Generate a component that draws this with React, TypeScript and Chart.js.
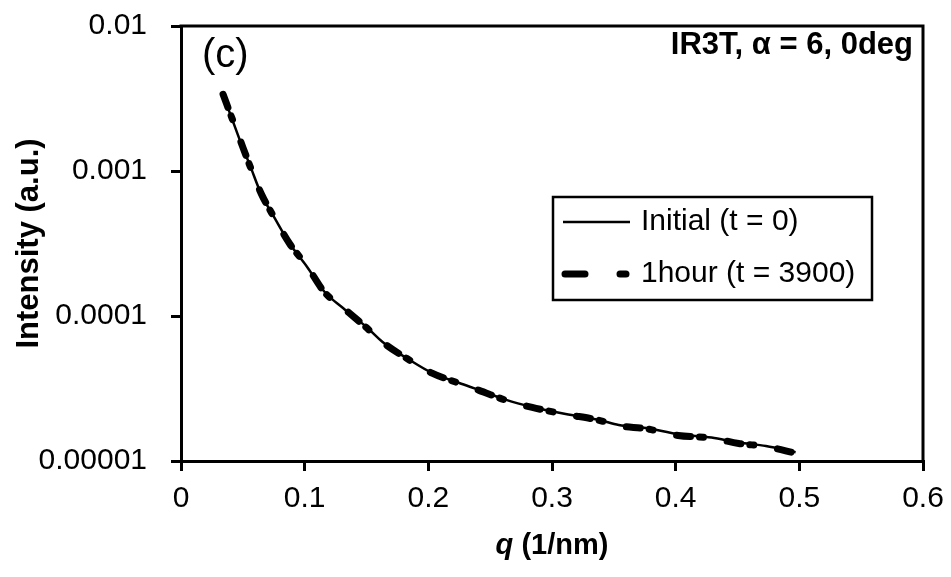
import React, { useEffect, useRef } from "react";
import { Chart, registerables } from "chart.js";

Chart.register(...registerables);

// ---- data ----
const qInitial = [0.034, 0.042, 0.048, 0.056, 0.065, 0.076, 0.088, 0.102, 0.116, 0.131, 0.150, 0.163, 0.185, 0.203, 0.225, 0.241, 0.263, 0.284, 0.311, 0.338, 0.354, 0.376, 0.402, 0.429, 0.451, 0.473, 0.497];
const intensityInitial = [3.34e-3, 2.2e-3, 1.6e-3, 1.08e-3, 6.9e-4, 4.7e-4, 3.15e-4, 2.18e-4, 1.47e-4, 1.135e-4, 8.39e-5, 6.62e-5, 4.97e-5, 4.05e-5, 3.45e-5, 3.09e-5, 2.64e-5, 2.36e-5, 2.11e-5, 1.92e-5, 1.77e-5, 1.69e-5, 1.53e-5, 1.45e-5, 1.34e-5, 1.27e-5, 1.15e-5];
const q1hour = [0.034, 0.042, 0.048, 0.056, 0.065, 0.076, 0.088, 0.102, 0.116, 0.131, 0.150, 0.163, 0.185, 0.203, 0.225, 0.241, 0.263, 0.284, 0.311, 0.338, 0.354, 0.376, 0.402, 0.429, 0.451, 0.473, 0.497];
const intensity1hour = [3.38e-3, 2.22e-3, 1.62e-3, 1.07e-3, 6.95e-4, 4.68e-4, 3.14e-4, 2.2e-4, 1.46e-4, 1.14e-4, 8.3e-5, 6.6e-5, 4.95e-5, 4.04e-5, 3.43e-5, 3.07e-5, 2.62e-5, 2.34e-5, 2.1e-5, 1.91e-5, 1.75e-5, 1.67e-5, 1.5e-5, 1.44e-5, 1.32e-5, 1.26e-5, 1.13e-5];
const seriesLabels = ["Initial (t = 0)", "1hour (t = 3900)"];
const xTicks = [0, 0.1, 0.2, 0.3, 0.4, 0.5, 0.6];
const xTickLabels = ["0", "0.1", "0.2", "0.3", "0.4", "0.5", "0.6"];
const yTicks = [0.00001, 0.0001, 0.001, 0.01];
const yTickLabels = ["0.00001", "0.0001", "0.001", "0.01"];
const chartTitle = "IR3T, \u03b1 = 6, 0deg";
const panelLabel = "(c)";
const yAxisTitle = "Intensity (a.u.)";
const xAxisTitleVar = "q";
const xAxisTitleUnit = " (1/nm)";

const FONT = "'Liberation Sans', Arial, sans-serif";
const DASH_CURVE = [14, 9, 4, 24];

const overlayPlugin = {
  id: "overlay",
  afterDraw(chart: any) {
    const ctx = chart.ctx;
    const a = chart.chartArea;
    ctx.save();
    // frame top & right
    ctx.strokeStyle = "#000";
    ctx.lineWidth = 3;
    ctx.beginPath();
    ctx.moveTo(a.left - 1.5, a.top);
    ctx.lineTo(a.right, a.top);
    ctx.lineTo(a.right, a.bottom + 1.5);
    ctx.stroke();

    ctx.fillStyle = "#000";
    ctx.textBaseline = "middle";
    // panel label
    ctx.font = `40px ${FONT}`;
    ctx.textAlign = "left";
    ctx.fillText(panelLabel, a.left + 21, a.top + 30);
    // title
    ctx.font = `bold 31px ${FONT}`;
    ctx.textAlign = "right";
    ctx.fillText(chartTitle, a.right - 10, a.top + 19);

    // legend
    const lx = 553, ly = 197, lw = 319, lh = 103;
    ctx.lineWidth = 2.5;
    ctx.strokeRect(lx, ly, lw, lh);
    const ds = chart.data.datasets;
    const rows = [ly + 25, ly + 77];
    for (let i = 0; i < ds.length; i++) {
      const y = rows[i];
      ctx.save();
      ctx.strokeStyle = ds[i].borderColor;
      ctx.lineWidth = i === 1 ? 7 : ds[i].borderWidth;
      ctx.lineCap = i === 1 ? "round" : "butt";
      if (i === 1) ctx.setLineDash([20, 35, 6, 40]);
      ctx.beginPath();
      ctx.moveTo(lx + (i === 1 ? 12 : 10), y);
      ctx.lineTo(lx + 77, y);
      ctx.stroke();
      ctx.restore();
      ctx.font = `30px ${FONT}`;
      ctx.textAlign = "left";
      ctx.fillText(ds[i].label, lx + 88, y);
    }

    // y axis title
    ctx.save();
    ctx.translate(29, (a.top + a.bottom) / 2);
    ctx.rotate(-Math.PI / 2);
    ctx.font = `bold 31px ${FONT}`;
    ctx.textAlign = "center";
    ctx.fillText(yAxisTitle, 0, 0);
    ctx.restore();

    // x axis title (italic variable + unit)
    const tf = 29;
    ctx.font = `bold italic ${tf}px ${FONT}`;
    const w1 = ctx.measureText(xAxisTitleVar).width;
    ctx.font = `bold ${tf}px ${FONT}`;
    const w2 = ctx.measureText(xAxisTitleUnit).width;
    const cx = (a.left + a.right) / 2;
    const x0 = cx - (w1 + w2) / 2;
    const ty = 546;
    ctx.textAlign = "left";
    ctx.font = `bold italic ${tf}px ${FONT}`;
    ctx.fillText(xAxisTitleVar, x0, ty);
    ctx.font = `bold ${tf}px ${FONT}`;
    ctx.fillText(xAxisTitleUnit, x0 + w1, ty);
    ctx.restore();
  },
};

export default function App() {
  const ref = useRef<HTMLCanvasElement | null>(null);
  useEffect(() => {
    if (!ref.current) return;
    const chart = new Chart(ref.current, {
      type: "line",
      data: {
        datasets: [
          {
            label: seriesLabels[0],
            data: qInitial.map((q, i) => ({ x: q, y: intensityInitial[i] })),
            borderColor: "#000",
            borderWidth: 2.5,
            pointRadius: 0,
            cubicInterpolationMode: "monotone",
            order: 1,
          },
          {
            label: seriesLabels[1],
            data: q1hour.map((q, i) => ({ x: q, y: intensity1hour[i] })),
            borderColor: "#000",
            borderWidth: 7,
            borderDash: DASH_CURVE,
            borderCapStyle: "round",
            pointRadius: 0,
            cubicInterpolationMode: "monotone",
            order: 2,
          },
        ],
      },
      options: {
        responsive: false,
        animation: false,
        layout: { padding: { left: 0, right: 28, top: 26, bottom: 0 } },
        plugins: { legend: { display: false }, tooltip: { enabled: false } },
        scales: {
          x: {
            type: "linear",
            min: 0,
            max: 0.6,
            afterBuildTicks: (s: any) => {
              s.ticks = xTicks.map((v) => ({ value: v }));
            },
            afterFit: (s: any) => {
              s.height = 116;
              s.paddingLeft = 0;
              s.paddingRight = 0;
            },
            ticks: {
              autoSkip: false,
              maxRotation: 0,
              color: "#000",
              padding: 10,
              font: { family: FONT, size: 30 },
              callback: (_v: any, i: number) => xTickLabels[i],
            },
            grid: { drawOnChartArea: false, drawTicks: true, tickLength: 10, color: "#000", lineWidth: 3 },
            border: { display: true, color: "#000", width: 3 },
          },
          y: {
            type: "logarithmic",
            min: 0.00001,
            max: 0.01,
            afterBuildTicks: (s: any) => {
              s.ticks = yTicks.map((v) => ({ value: v }));
            },
            afterFit: (s: any) => {
              s.width = 181;
              s.paddingTop = 0;
              s.paddingBottom = 0;
            },
            ticks: {
              autoSkip: false,
              color: "#000",
              padding: 24,
              font: { family: FONT, size: 30 },
              callback: (_v: any, i: number) => yTickLabels[i],
            },
            grid: { drawOnChartArea: false, drawTicks: true, tickLength: 10, color: "#000", lineWidth: 3 },
            border: { display: true, color: "#000", width: 3 },
          },
        },
      },
      plugins: [overlayPlugin],
    } as any);
    return () => chart.destroy();
  }, []);
  return (
    <div style={{ position: "absolute", left: 0, top: 0, width: 951, height: 577, background: "#fff" }}>
      <canvas ref={ref} width={951} height={577} style={{ display: "block" }} />
    </div>
  );
}
